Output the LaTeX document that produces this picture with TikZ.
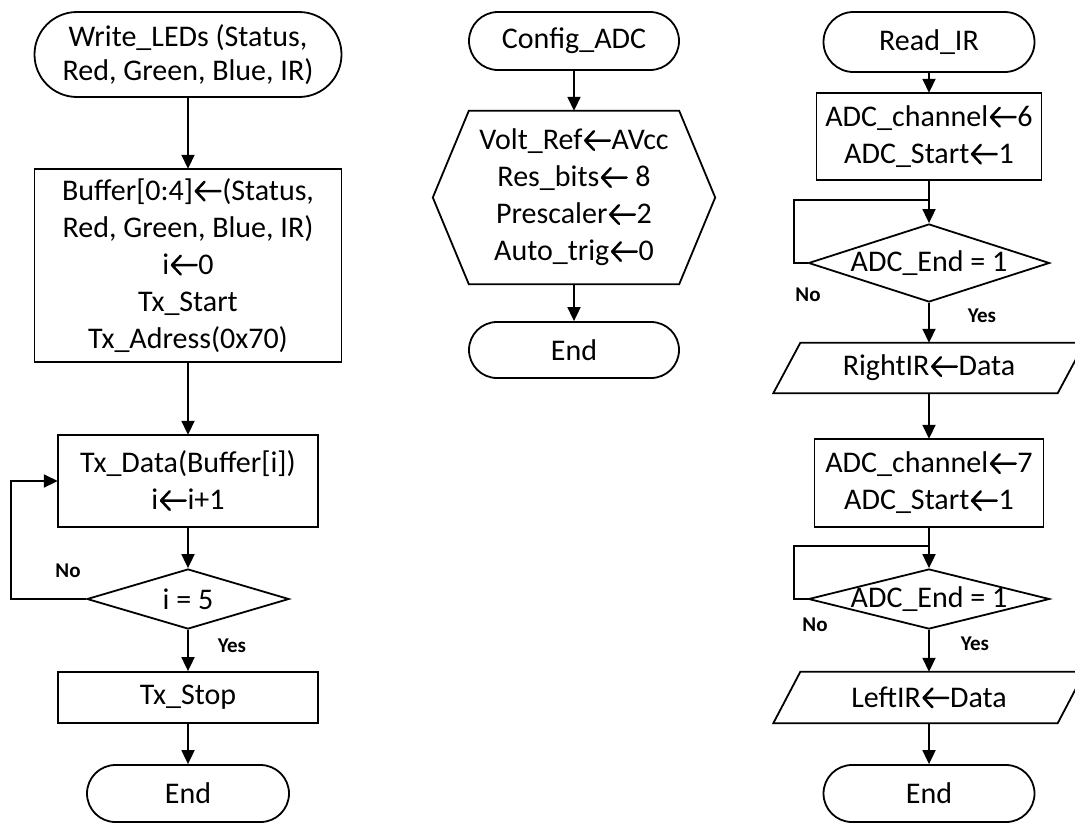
\documentclass[tikz,border=0pt]{standalone}
\usepackage{fontspec}
\setmainfont{Carlito}
\usetikzlibrary{shapes.geometric,shapes.misc,arrows.meta}
% left arrow as in the assignments
\newcommand{\getsarrow}{\hspace{0.05em}\tikz[baseline=0pt,x=1em,y=1em,line width=0.085em,line cap=round,line join=round]
  \draw (0.33,0.62) -- (0.04,0.31) -- (0.33,0) (0.04,0.31) -- (0.86,0.31);\hspace{0.02em}}

\begin{document}
\begin{tikzpicture}[x=1pt,y=-1pt,line width=1.8pt,
  >={Triangle[length=14pt,width=13pt]},
  every node/.style={font=\fontsize{30}{37}\selectfont, align=center, inner sep=0pt},
  term/.style={rounded rectangle, draw},
  proc/.style={rectangle, draw},
  decision/.style={diamond, draw},
  yesno/.style={font=\fontsize{21}{24}\selectfont\bfseries}]
  \useasboundingbox (0,0) rectangle (1075,825);

  % Write_LEDs
  \node[term, minimum width=307pt, minimum height=85pt] (w_start) at (188,54.5) {Write\_LEDs (Status,\\[-3pt]Red, Green, Blue, IR)};
  \node[proc, minimum width=307pt, minimum height=193pt] (w_init) at (188,265.5) {Buffer[0:4]\getsarrow(Status,\\Red, Green, Blue, IR)\\i\getsarrow0\\Tx\_Start\\Tx\_Adress(0x70)};
  \node[proc, minimum width=260pt, minimum height=92pt] (w_send) at (188,481) {Tx\_Data(Buffer[i])\\i\getsarrow i+1};
  \node[decision, minimum width=202pt, minimum height=60pt] (w_chk) at (188,599) {\makebox[0pt]{i = 5}};
  \node[proc, minimum width=260pt, minimum height=51pt] (w_stop) at (188,697.5) {Tx\_Stop};
  \node[term, minimum width=202pt, minimum height=57pt] (w_end) at (188,793.5) {End};
  \node[yesno] (w_no) at (68,571) {No};
  \node[yesno] (w_yes) at (232,646) {Yes};

  \draw[->] (w_start) -- (w_init);
  \draw[->] (w_init) -- (w_send);
  \draw[->] (w_send) -- (w_chk);
  \draw[->] (w_chk) -- (w_stop);
  \draw[->] (w_stop) -- (w_end);
  \draw[->] (w_chk.west) -- ++(-75,0) |- (w_send.west);

  % Config_ADC
  \node[term, minimum width=210pt, minimum height=58pt] (c_start) at (574,41) {Config\_ADC};
  \node[minimum width=210pt, minimum height=173pt] (c_set) at (574,197.5) {Volt\_Ref\getsarrow AVcc\\Res\_bits\getsarrow\ 8\\Prescaler\getsarrow2\\Auto\_trig\getsarrow0};
  \draw (c_set.north west) -- (c_set.north east) -- ([xshift=36pt]c_set.east) -- (c_set.south east)
    -- (c_set.south west) -- ([xshift=-36pt]c_set.west) -- cycle;
  \node[term, minimum width=210pt, minimum height=56pt] (c_end) at (574,350) {End};

  \draw[->] (c_start) -- (c_set.north);
  \draw[->] (c_set.south) -- (c_end);

  % Read_IR
  \node[term, minimum width=211pt, minimum height=60pt] (r_start) at (929,42) {Read\_IR};
  \node[proc, minimum width=225pt, minimum height=87pt] (r_ch6) at (929,136.5) {ADC\_channel\getsarrow6\\ADC\_Start\getsarrow1};
  \node[decision, minimum width=241pt, minimum height=78pt] (r_chk1) at (929,263) {\makebox[0pt]{ADC\_End = 1}};
  \node[minimum width=284pt, minimum height=50pt] (r_right) at (929,368) {RightIR\getsarrow Data};
  \draw ([xshift=-13.5pt]r_right.south west) -- ([xshift=-13.5pt]r_right.south east)
    -- ([xshift=13.5pt]r_right.north east) -- ([xshift=13.5pt]r_right.north west) -- cycle;
  \node[proc, minimum width=229pt, minimum height=88pt] (r_ch7) at (929,483) {ADC\_channel\getsarrow7\\ADC\_Start\getsarrow1};
  \node[decision, minimum width=241pt, minimum height=60pt] (r_chk2) at (929,599) {\makebox[0pt]{ADC\_End = 1}};
  \node[minimum width=284pt, minimum height=51pt] (r_left) at (929,697.5) {LeftIR\getsarrow Data};
  \draw ([xshift=-13.5pt]r_left.south west) -- ([xshift=-13.5pt]r_left.south east)
    -- ([xshift=13.5pt]r_left.north east) -- ([xshift=13.5pt]r_left.north west) -- cycle;
  \node[term, minimum width=211pt, minimum height=57pt] (r_end) at (929,793.5) {End};
  \node[yesno] (r_no1) at (808,295) {No};
  \node[yesno] (r_yes1) at (982,316) {Yes};
  \node[yesno] (r_no2) at (815,625) {No};
  \node[yesno] (r_yes2) at (975,644) {Yes};
  \coordinate (r_j1) at (929,200);
  \coordinate (r_j2) at (929,546);

  \draw[->] (r_start) -- (r_ch6);
  \draw[->] (r_ch6) -- (r_chk1);
  \draw (r_chk1.west) -- ++(-14,0) |- (r_j1);
  \draw[->] (r_chk1) -- (r_right);
  \draw[->] (r_right) -- (r_ch7);
  \draw[->] (r_ch7) -- (r_chk2);
  \draw (r_chk2.west) -- ++(-14,0) |- (r_j2);
  \draw[->] (r_chk2) -- (r_left);
  \draw[->] (r_left) -- (r_end);
\end{tikzpicture}
\end{document}
